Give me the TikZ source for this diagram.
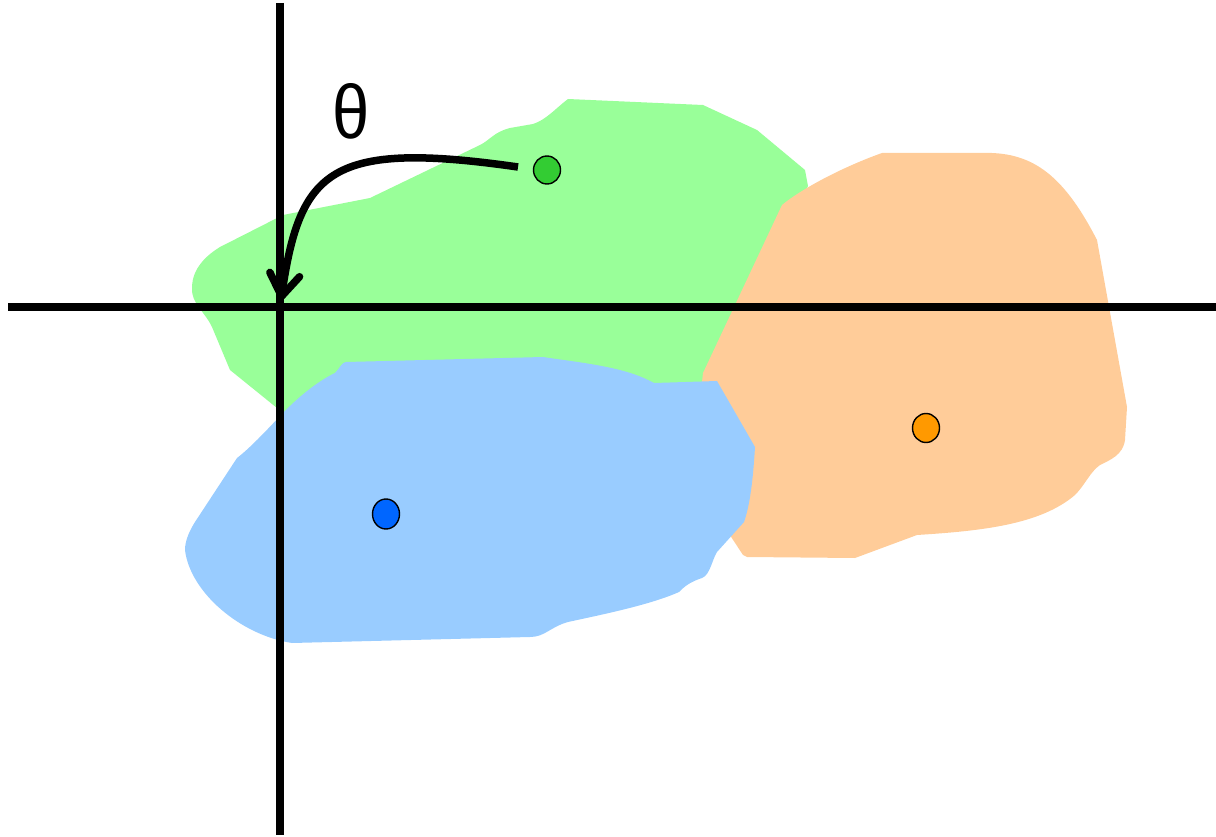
\documentclass[tikz,border=0pt]{standalone}
\usepackage{fontspec}
\setmainfont{Liberation Sans}
\usetikzlibrary{arrows.meta,shapes.geometric}
\definecolor{greenreg}{HTML}{99FF99}
\definecolor{orangereg}{HTML}{FFCC99}
\definecolor{bluereg}{HTML}{99CCFF}
\definecolor{greendot}{HTML}{33CC33}
\definecolor{orangedot}{HTML}{FF9900}
\definecolor{bluedot}{HTML}{0066FF}
\tikzset{
  region/.style={draw=none},
  axis/.style={line width=8pt, black},
  dot/.style={ellipse, draw=black, line width=1.4pt, inner sep=0pt, minimum width=27pt, minimum height=#1},
  rotarrow/.style={line width=7.5pt, -{Straight Barb[length=22pt,width=30pt,round]}}
}
\begin{document}
\begin{tikzpicture}[x=1pt,y=-1pt]
\useasboundingbox (0,0) rectangle (1216,837);
% green region
\fill[greenreg, region] (568,99) -- (703,105) -- (757,130) -- (805,170) -- (808,186) -- (760,300) -- (715,390) -- (400,400) -- (300,420) -- (277,408) -- (230,370) -- (212,327)
  .. controls (205,312) and (191,303) .. (192,288)
  .. controls (192,268) and (207,255) .. (220,247)
  -- (283,215) -- (370,198) -- (480,145)
  .. controls (490,140) and (494,132) .. (510,128)
  -- (533,124) .. controls (546,120) and (556,108) .. (568,99) -- cycle;
% orange region
\fill[orangereg, region] (882,153) -- (980,153)
  .. controls (1030,151) and (1062,172) .. (1097,240)
  -- (1127,407) -- (1125,440)
  .. controls (1123,455) and (1110,460) .. (1100,465)
  .. controls (1090,472) and (1085,485) .. (1075,495)
  .. controls (1040,525) and (980,531) .. (917,535)
  -- (855,558) -- (747,557) -- (743,555) -- (720,520) -- (700,400) -- (703,373) -- (782,205)
  .. controls (800,190) and (840,168) .. (882,153) -- cycle;
% blue region
\fill[bluereg, region] (346,362) -- (543,357)
  .. controls (575,362) and (620,366) .. (648,380)
  -- (654,383) -- (717,381) -- (755,447)
  .. controls (753,480) and (750,505) .. (744,522)
  -- (717,552)
  .. controls (712,560) and (710,575) .. (702,578)
  .. controls (690,582) and (685,586) .. (679,592)
  .. controls (650,605) and (600,615) .. (568,622)
  .. controls (550,627) and (545,637) .. (530,637)
  -- (292,643)
  .. controls (240,635) and (190,592) .. (185,550)
  .. controls (185,540) and (190,530) .. (195,522)
  -- (237,458)
  .. controls (250,448) and (265,432) .. (281,415)
  .. controls (300,395) and (320,380) .. (335,373)
  .. controls (340,368) and (342,362) .. (346,362) -- cycle;
% axes
\coordinate (xl) at (8,307);
\coordinate (xr) at (1216,307);
\coordinate (yt) at (280,3);
\coordinate (yb) at (280,835);
\draw[axis] (xl) -- (xr);
\draw[axis] (yt) -- (yb);
% dots
\node[dot=28pt, fill=greendot] (g) at (547,170) {};
\node[dot=30pt, fill=bluedot] (b) at (386,514) {};
\node[dot=29pt, fill=orangedot] (o) at (926,428) {};
% rotation arrow
\coordinate (astart) at (518,167);
\coordinate (aend) at (281,300);
\draw[rotarrow] (astart) .. controls (330,140) and (300,170) .. (aend);
\node[font=\fontsize{76}{84}\selectfont, inner sep=0pt, xscale=0.88] (theta) at (351,111) {θ};
\end{tikzpicture}
\end{document}
